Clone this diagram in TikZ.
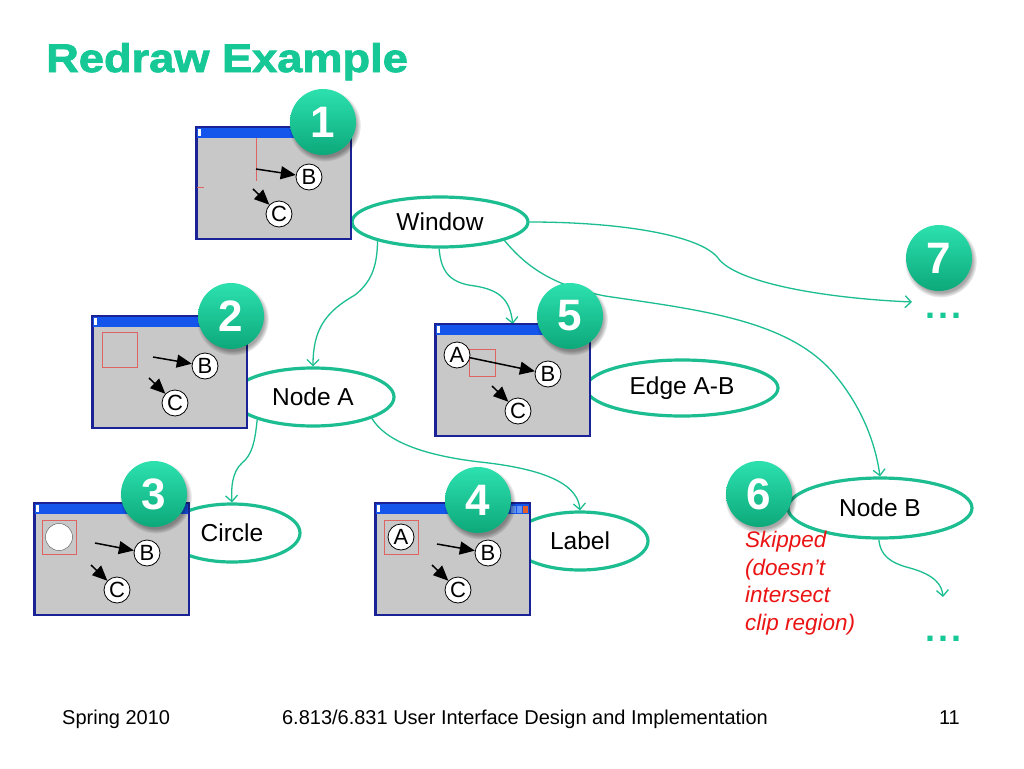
\documentclass[tikz,border=0pt]{standalone}
\usepackage{fontspec}
\setmainfont{Liberation Sans}
\newfontfamily\titlefont[FakeStretch=1.13,FakeBold=2]{Liberation Sans}
\usetikzlibrary{arrows.meta,shapes.geometric,shadows}
\pgfdeclarelayer{bg}
\pgfsetlayers{bg,main}
\definecolor{ttl}{RGB}{22,200,150}
\definecolor{grn}{RGB}{28,190,145}
\definecolor{badgehi}{RGB}{45,225,175}
\definecolor{badgelo}{RGB}{12,168,122}
\definecolor{wgrey}{RGB}{200,200,200}
\definecolor{wborder}{RGB}{25,35,150}
\definecolor{wtitle}{RGB}{20,85,235}
\definecolor{wbtn}{RGB}{100,150,245}
\definecolor{wclose}{RGB}{230,95,40}
\definecolor{redtxt}{RGB}{235,20,20}
\definecolor{cliprect}{RGB}{222,100,100}
\tikzset{
  oval/.style={ellipse, draw=grn, line width=3.2pt, fill=white, inner sep=0pt,
    font=\fontsize{24.5}{26}\selectfont},
  conn/.style={draw=grn, line width=1.3pt, -{Straight Barb[length=6pt,width=12pt]}},
  badge/.style={circle, minimum size=66pt, inner sep=0pt, top color=badgehi,
    bottom color=badgelo,
    circular drop shadow={shadow xshift=1.5pt, shadow yshift=-3pt, opacity=0.35, fill=black},
    text=white, font=\fontsize{44}{44}\selectfont\bfseries},
  winbox/.style={rectangle, fill=wgrey, draw=wborder, line width=1.5pt,
    minimum width=154pt, minimum height=111pt, inner sep=0pt, anchor=north west},
  letter/.style={circle, fill=white, draw=black, line width=0.8pt, minimum size=26pt,
    inner sep=0pt, font=\fontsize{22}{22}\selectfont},
  blk/.style={draw=black, line width=1.5pt, -{Triangle[length=15pt,width=13pt]}},
  clipbox/.style={draw=cliprect, line width=0.8pt},
  dotsstyle/.style={anchor=base west, inner sep=0pt, text=ttl,
    font=\fontsize{36}{36}\selectfont\bfseries},
  foot/.style={inner sep=0pt, font=\fontsize{20}{20}\selectfont},
}
\newcommand\miniwin[3]{%
  \begin{scope}[shift={(#2,#3)}]
    \node[winbox] (#1) at (0,0) {};
    \fill[wtitle] (0,0) rectangle (154,11);
    \fill[white] (2,2) rectangle (5,9);
    \draw[wborder, line width=1.5pt] (#1.north west) rectangle (#1.south east);
    \node[letter] (#1B) at (113,50) {B};
    \node[letter] (#1C) at (83,87) {C};
    \coordinate (#1c0) at (57,62);
    \draw[blk] (#1c0) -- (#1C);
  \end{scope}}
\begin{document}
\begin{tikzpicture}[x=1pt,y=-1pt]
\begin{pgfonlayer}{bg}
  \fill[white] (0,0) rectangle (1024,768);
\end{pgfonlayer}
\useasboundingbox (0,0) rectangle (1024,768);

% title
\node[anchor=base west, inner sep=0pt, text=ttl,
  font=\titlefont\fontsize{40}{40}\selectfont\bfseries] (title) at (46,72) {Redraw Example};

% ellipses
\node[oval, minimum width=176pt, minimum height=50pt] (win) at (440,222) {Window};
\node[oval, minimum width=162pt, minimum height=58pt] (nA) at (313,397) {Node A};
\node[oval, minimum width=192pt, minimum height=56pt] (eab) at (682,388) {Edge A-B};
\node[oval, minimum width=136pt, minimum height=58pt] (circ) at (232,533) {Circle};
\node[oval, minimum width=136pt, minimum height=58pt] (lab) at (580,541) {Label};
\node[oval, minimum width=184pt, minimum height=60pt] (nB) at (880,508) {Node B};

% window 1
\miniwin{wa}{196}{127}
\draw[clipbox] (256,138) -- (256,181);
\draw[clipbox] (197,187) -- (204,187);
\coordinate (wab0) at (256,169);
\draw[blk] (wab0) -- (waB);

% window 2
\miniwin{wb}{92}{316}
\draw[clipbox] (102,332) rectangle (137,367);
\coordinate (wbb0) at (153,357);
\draw[blk] (wbb0) -- (wbB);

% window 3
\miniwin{wc}{34}{503}
\draw[clipbox] (42,520) rectangle (76,554);
\node[circle, fill=white, draw=black!60, line width=0.5pt, minimum size=27pt, inner sep=0pt] (wcO) at (59,537) {};
\coordinate (wcb0) at (95,543);
\draw[blk] (wcb0) -- (wcB);

% window 4
\miniwin{wd}{375}{503}
\fill[wbtn] (511,506) rectangle (516,513);
\fill[wbtn] (517,506) rectangle (522,513);
\fill[wclose] (523,506) rectangle (528,513);
\draw[clipbox] (384,520) rectangle (418,554);
\node[letter] (wdA) at (401,537) {A};
\coordinate (wdb0) at (437,544);
\draw[blk] (wdb0) -- (wdB);

% window 5
\miniwin{we}{435}{324}
\draw[clipbox] (469,349) rectangle (495,376);
\node[letter] (weA) at (457,355) {A};
\draw[blk] (weA) -- (weB);

% dots
\node[dotsstyle] (d7) at (925,318) {.\kern3pt.\kern3pt.};
\node[dotsstyle] (d6) at (925,641) {.\kern3pt.\kern3pt.};
\coordinate (e7) at (912,302);
\coordinate (e6) at (943,597);

% connectors
\begin{pgfonlayer}{bg}
  \draw[conn] (win.-163) .. controls (377,262) and (374,280) .. (355,295)
              .. controls (325,312) and (313,330) .. (nA.north);
  \draw[conn] (win.-92) .. controls (441,270) and (448,283) .. (475,286)
              .. controls (500,290) and (510,300) .. (we.north);
  \draw[conn] (win.east) .. controls (620,222) and (700,235) .. (718,258)
              .. controls (735,282) and (820,298) .. (e7);
  \draw[conn] (win.-16) .. controls (525,265) and (550,285) .. (605,296)
              .. controls (700,310) and (790,320) .. (835,375)
              .. controls (860,405) and (875,440) .. (nB.north);
  \draw[conn] (nA.-158) .. controls (255,442) and (252,455) .. (242,463)
              .. controls (232,472) and (231,488) .. (circ.north);
  \draw[conn] (nA.-20) .. controls (385,440) and (420,455) .. (480,462)
              .. controls (555,470) and (578,488) .. (lab.north);
  \draw[conn] (nB.-92) .. controls (880,555) and (890,563) .. (910,568)
              .. controls (935,575) and (942,585) .. (e6);
\end{pgfonlayer}

% badges
\node[badge] (b1) at (323,122) {1};
\node[badge] (b2) at (231,316) {2};
\node[badge] (b3) at (154,494) {3};
\node[badge] (b4) at (478,500) {4};
\node[badge] (b5) at (570,316) {5};
\node[badge] (b6) at (759,494) {6};
\node[badge] (b7) at (939,258) {7};

% skipped note (base anchor = baseline of the last line)
\node[anchor=base west, align=left, inner sep=0pt, text=redtxt,
  font=\fontsize{22.5}{27.5}\selectfont\itshape] (skip) at (745,630)
  {Skipped\\(doesn’t\\intersect\\clip region)};

% footer
\node[foot, anchor=base west] (f1) at (62,724) {Spring 2010};
\node[foot, anchor=base] (f2) at (525,724) {6.813/6.831 User Interface Design and Implementation};
\node[foot, anchor=base east] (f3) at (960,724) {11};
\end{tikzpicture}
\end{document}
